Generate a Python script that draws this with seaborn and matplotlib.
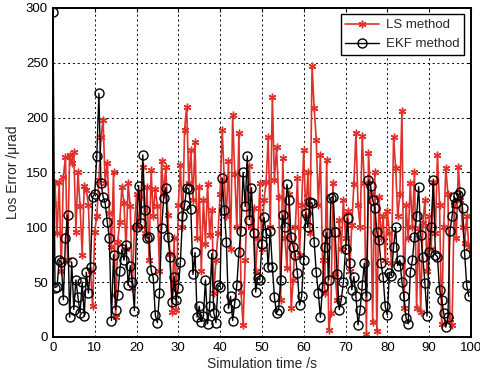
import matplotlib
matplotlib.use("Agg")
import matplotlib.pyplot as plt
import seaborn as sns
import numpy as np
import pandas as pd

# time axis, 0.5 s step
time_s = np.arange(0, 100, 0.5)

ls_error = [
    121, 140, 95, 141, 60, 146, 164, 70, 166, 159,
    169, 96, 150, 119, 75, 138, 134, 120, 60, 28,
    96, 110, 143, 182, 198, 140, 159, 113, 82, 150,
    18, 87, 105, 137, 122, 80, 140, 119, 45, 100,
    130, 100, 128, 155, 95, 137, 70, 152, 110, 135,
    119, 60, 160, 130, 155, 111, 76, 23, 90, 25,
    120, 157, 100, 189, 210, 140, 170, 125, 178, 90,
    137, 60, 125, 85, 139, 93, 116, 40, 70, 95,
    130, 189, 143, 110, 160, 80, 202, 149, 100, 186,
    41, 11, 70, 127, 156, 100, 118, 60, 90, 140,
    80, 125, 141, 182, 100, 219, 143, 173, 128, 34,
    163, 90, 63, 130, 26, 52, 100, 145, 75, 120,
    170, 110, 150, 95, 247, 209, 180, 120, 166, 70,
    40, 161, 6, 22, 140, 57, 34, 107, 80, 125,
    90, 115, 60, 102, 139, 186, 120, 100, 183, 140,
    3, 168, 130, 14, 150, 5, 128, 90, 110, 70,
    115, 95, 67, 182, 154, 110, 130, 206, 26, 120,
    90, 140, 100, 150, 26, 99, 23, 104, 125, 60,
    110, 80, 141, 95, 166, 120, 12, 100, 154, 130,
    16, 11, 120, 90, 155, 125, 100, 86, 110, 82,
]

ekf_error = [
    296, 45, 46, 70, 68, 34, 90, 111, 18, 68,
    25, 52, 36, 22, 50, 19, 59, 40, 64, 128,
    130, 165, 222, 140, 128, 122, 105, 90, 15, 75,
    25, 38, 60, 80, 70, 84, 47, 65, 50, 24,
    100, 138, 104, 166, 116, 90, 91, 61, 54, 20,
    13, 40, 99, 127, 136, 91, 73, 32, 55, 34,
    45, 68, 110, 120, 136, 135, 117, 57, 77, 18,
    28, 14, 19, 52, 12, 28, 76, 22, 13, 47,
    46, 145, 116, 87, 26, 37, 15, 31, 47, 77,
    97, 150, 119, 165, 107, 136, 95, 41, 54, 52,
    85, 109, 95, 64, 97, 64, 36, 22, 25, 52,
    111, 100, 139, 125, 91, 82, 75, 58, 29, 37,
    70, 113, 100, 123, 122, 87, 59, 40, 18, 46,
    82, 95, 52, 127, 128, 96, 57, 25, 34, 50,
    80, 108, 67, 43, 55, 37, 11, 25, 47, 67,
    37, 143, 138, 125, 118, 96, 88, 67, 55, 28,
    20, 58, 56, 82, 100, 65, 70, 50, 37, 17,
    12, 59, 70, 91, 110, 137, 93, 73, 49, 19,
    77, 100, 143, 75, 73, 43, 34, 22, 9, 18,
    97, 110, 128, 122, 129, 132, 118, 76, 47, 37,
]

df = pd.DataFrame({"t": time_s, "LS": ls_error, "EKF": ekf_error})

sns.set_style("white")
plt.rcParams["font.family"] = ["Liberation Sans", "DejaVu Sans"]
plt.rcParams["xtick.direction"] = "in"
plt.rcParams["ytick.direction"] = "in"

fig = plt.figure(figsize=(4.81, 3.74), dpi=100)
ax = fig.add_axes([0.110, 0.099, 0.869, 0.880])

red = "#e0302a"
sns.lineplot(data=df, x="t", y="LS", ax=ax, color=red, linewidth=1.2,
             marker=(6, 2, 0), markersize=5.5, markeredgewidth=1.0,
             markeredgecolor=red, sort=False, estimator=None,
             label="LS method")
sns.lineplot(data=df, x="t", y="EKF", ax=ax, color="black", linewidth=1.0,
             marker="o", markersize=6.5, markerfacecolor="none",
             markeredgecolor="black", markeredgewidth=1.0, sort=False,
             estimator=None, label="EKF method")

ax.set_xlim(0, 100)
ax.set_ylim(0, 300)
ax.set_xticks(np.arange(0, 101, 10))
ax.set_yticks(np.arange(0, 301, 50))
ax.tick_params(labelsize=9.5, length=3, width=0.8, top=True, right=True,
               colors="black")
ax.grid(True, color="black", linestyle=(0, (2, 3)), linewidth=0.7)
for s in ax.spines.values():
    s.set_linewidth(1.4)
    s.set_color("black")

ax.set_xlabel("Simulation time /s", fontsize=10, labelpad=2)
ax.set_ylabel("Los Error /\u03bcrad", fontsize=10, labelpad=4)

leg = ax.legend(loc="upper right", fontsize=9.5, frameon=True, fancybox=False,
                edgecolor="black", framealpha=1, borderpad=0.35,
                handlelength=2.6, handletextpad=0.5, borderaxespad=0.5)
leg.get_frame().set_linewidth(1.0)

fig.savefig("out.png", dpi=100)
